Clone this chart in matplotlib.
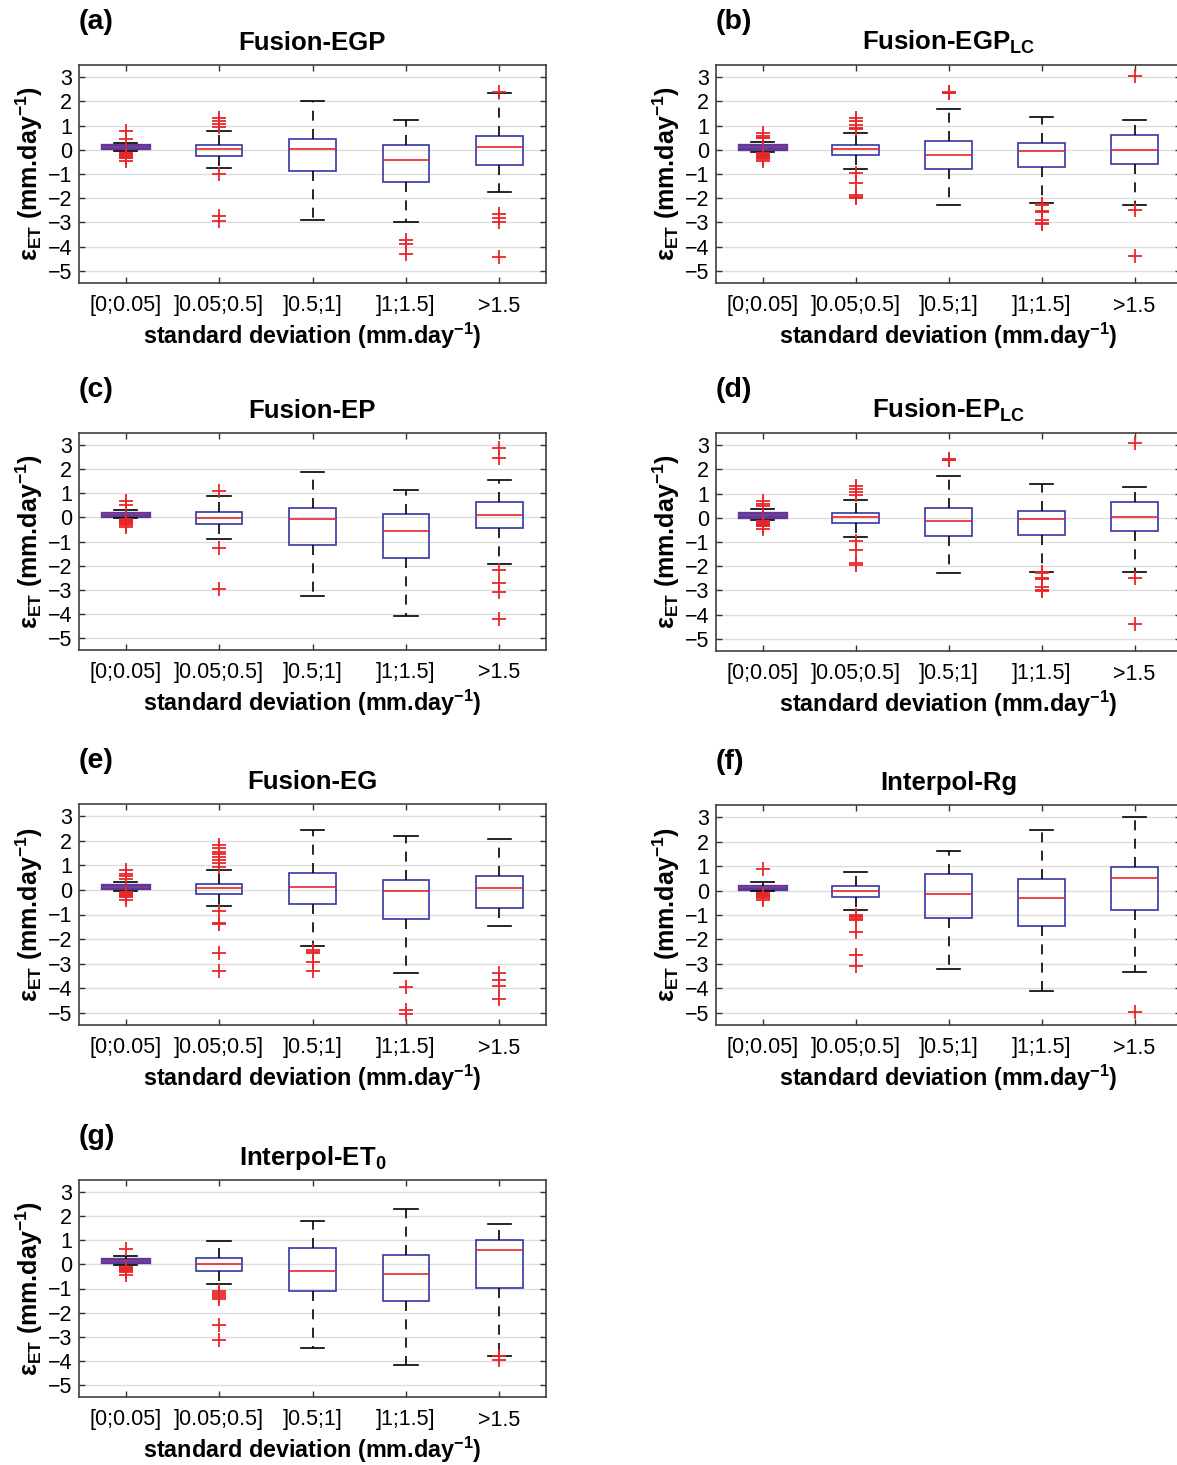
import numpy as np
import matplotlib.pyplot as plt

plt.rcParams['font.family'] = ['Liberation Sans', 'DejaVu Sans']
plt.rcParams['mathtext.fontset'] = 'custom'
plt.rcParams['mathtext.rm'] = 'Liberation Sans'
plt.rcParams['mathtext.bf'] = 'Liberation Sans:bold'
plt.rcParams['mathtext.it'] = 'Liberation Sans:italic'

categories = ['[0;0.05]', ']0.05;0.5]', ']0.5;1]', ']1;1.5]', '>1.5']
panel_labels = ['(a)', '(b)', '(c)', '(d)', '(e)', '(f)', '(g)']
titles = ['Fusion-EGP', r'Fusion-EGP$_\mathbf{LC}$', 'Fusion-EP', r'Fusion-EP$_\mathbf{LC}$',
          'Fusion-EG', 'Interpol-Rg', r'Interpol-ET$_\mathbf{0}$']

# rows = panels a..g, columns = std-dev classes
medians = np.array([
    [0.13, 0.03, 0.02, -0.41, 0.12],
    [0.13, 0.04, -0.20, -0.07, 0.01],
    [0.13, -0.02, -0.06, -0.55, 0.11],
    [0.13, 0.04, -0.15, -0.04, 0.04],
    [0.13, 0.09, 0.13, -0.05, 0.07],
    [0.13, 0.00, -0.15, -0.29, 0.53],
    [0.14, 0.03, -0.26, -0.39, 0.58],
])
q1 = np.array([
    [0.06, -0.25, -0.89, -1.35, -0.63],
    [0.05, -0.23, -0.81, -0.73, -0.59],
    [0.07, -0.28, -1.14, -1.70, -0.44],
    [0.05, -0.20, -0.76, -0.70, -0.53],
    [0.07, -0.15, -0.59, -1.19, -0.74],
    [0.08, -0.27, -1.12, -1.46, -0.81],
    [0.08, -0.28, -1.12, -1.53, -0.97],
])
q3 = np.array([
    [0.19, 0.21, 0.44, 0.19, 0.55],
    [0.20, 0.19, 0.38, 0.27, 0.62],
    [0.18, 0.21, 0.41, 0.14, 0.63],
    [0.20, 0.21, 0.41, 0.30, 0.65],
    [0.20, 0.23, 0.70, 0.40, 0.55],
    [0.19, 0.20, 0.66, 0.48, 0.97],
    [0.21, 0.25, 0.69, 0.37, 1.02],
])
whisk_lo = np.array([
    [-0.07, -0.77, -2.89, -2.97, -1.73],
    [-0.10, -0.81, -2.26, -2.20, -2.26],
    [-0.03, -0.90, -3.27, -4.10, -1.92],
    [-0.08, -0.80, -2.26, -2.22, -2.23],
    [-0.03, -0.65, -2.27, -3.39, -1.46],
    [-0.03, -0.79, -3.20, -4.09, -3.35],
    [-0.01, -0.80, -3.46, -4.19, -3.79],
])
whisk_hi = np.array([
    [0.29, 0.76, 2.02, 1.22, 2.35],
    [0.34, 0.68, 1.68, 1.35, 1.22],
    [0.32, 0.87, 1.89, 1.12, 1.54],
    [0.36, 0.72, 1.73, 1.40, 1.27],
    [0.34, 0.80, 2.46, 2.21, 2.08],
    [0.33, 0.77, 1.61, 2.46, 3.00],
    [0.34, 0.95, 1.81, 2.30, 1.68],
])
outliers = [
    [[0.76, 0.45, -0.12, -0.15, -0.18, -0.21, -0.24, -0.27, -0.30, -0.33, -0.36, -0.45],
     [1.30, 1.17, 1.05, 0.92, -1.02, -2.72, -2.92],
     [],
     [-3.72, -3.90, -4.30],
     [2.38, -2.65, -2.82, -2.98, -4.44]],
    [[0.70, 0.55, 0.50, 0.47, -0.14, -0.17, -0.20, -0.23, -0.26, -0.29, -0.32, -0.35, -0.38, -0.48],
     [1.30, 1.18, 1.03, 0.90, 0.86, -0.97, -1.37, -1.87, -1.93, -1.98],
     [2.33, 2.36, 2.40],
     [-2.24, -2.28, -2.52, -2.56, -2.88, -3.02, -3.06],
     [3.05, -2.50, -4.38]],
    [[0.68, 0.50, -0.08, -0.11, -0.14, -0.17, -0.20, -0.23, -0.26, -0.30, -0.38],
     [1.10, -1.27, -2.97],
     [],
     [],
     [2.88, 2.45, -2.19, -2.72, -3.08, -4.20]],
    [[0.70, 0.55, 0.50, -0.12, -0.15, -0.18, -0.21, -0.24, -0.27, -0.30, -0.33, -0.36, -0.45],
     [1.30, 1.18, 1.05, 0.92, -0.95, -1.35, -1.88, -1.94],
     [2.38, 2.40, 2.42],
     [-2.24, -2.30, -2.50, -2.54, -2.85, -3.00, -3.04],
     [3.10, -2.47, -4.40]],
    [[0.82, 0.65, 0.55, 0.45, -0.08, -0.11, -0.14, -0.17, -0.20, -0.23, -0.26, -0.30, -0.42],
     [1.85, 1.70, 1.55, 1.45, 1.35, 1.22, 1.10, 0.95, -0.85, -1.35, -1.40, -2.55, -3.30],
     [-2.45, -2.52, -2.58, -2.92, -3.30],
     [-3.95, -4.88, -5.05],
     [-3.38, -3.65, -3.92, -4.45]],
    [[0.88, -0.08, -0.11, -0.14, -0.17, -0.20, -0.23, -0.26, -0.29, -0.38],
     [-1.02, -1.06, -1.10, -1.15, -1.20, -1.70, -2.64, -3.10],
     [],
     [],
     [-4.97]],
    [[0.65, -0.10, -0.13, -0.16, -0.19, -0.22, -0.25, -0.28, -0.32, -0.42],
     [-1.12, -1.20, -1.28, -1.36, -1.45, -2.50, -3.14],
     [],
     [],
     [-3.80, -3.97]],
]

W, H = 1177, 1465
# axes boxes in pixels: (left, top, right, bottom)
boxes_px = [
    (79, 65, 546, 283), (716, 65, 1181, 283),
    (79, 433, 546, 650), (716, 433, 1181, 651),
    (79, 804, 546, 1025), (716, 805, 1181, 1025),
    (79, 1180, 546, 1397),
]

box_color = '#3535a5'
med_color = '#e8262a'
out_color = '#e8262a'

fig = plt.figure(figsize=(W / 100, H / 100), dpi=100)

for i in range(7):
    l, t, r, b = boxes_px[i]
    ax = fig.add_axes([l / W, 1 - b / H, (r - l) / W, (b - t) / H])

    stats = []
    for j in range(5):
        stats.append(dict(med=medians[i, j], q1=q1[i, j], q3=q3[i, j],
                          whislo=whisk_lo[i, j], whishi=whisk_hi[i, j],
                          fliers=outliers[i][j]))
    res = ax.bxp(stats, positions=np.arange(1, 6), widths=0.5, capwidths=0.25,
                 patch_artist=True, showfliers=True,
                 boxprops=dict(edgecolor=box_color, facecolor='none', linewidth=1.2),
                 medianprops=dict(color=med_color, linewidth=1.2),
                 whiskerprops=dict(color='black', linewidth=1.2, linestyle=(0, (6, 5))),
                 capprops=dict(color='black', linewidth=1.2),
                 flierprops=dict(marker='+', markeredgecolor=out_color, markersize=10,
                                 markeredgewidth=1.3, linestyle='none'))
    # the first box is so thin it looks like a solid purple bar
    res['boxes'][0].set_facecolor('#6a3fa0')
    res['boxes'][0].set_edgecolor('#5a3a9a')
    res['boxes'][0].set_linewidth(2.4)
    res['medians'][0].set_color('#8a3a8a')

    ax.set_xlim(0.5, 5.5)
    ax.set_ylim(-5.5, 3.5)
    ax.set_yticks(np.arange(-5, 4))
    ax.set_xticks(np.arange(1, 6))
    ax.set_xticklabels(categories)
    ax.grid(axis='y', color='#dcdcdc', linewidth=1.0)
    ax.set_axisbelow(True)
    ax.tick_params(direction='in', top=True, right=True, length=4, width=1.0,
                   color='#333333', labelsize=15.5)
    ax.tick_params(axis='x', pad=9)
    ax.tick_params(axis='y', pad=5)
    for sp in ax.spines.values():
        sp.set_color('#404040')
        sp.set_linewidth(1.2)

    ax.set_ylabel(r'ε$_\mathbf{ET}$ (mm.day$^\mathbf{-1}$)', fontsize=18,
                  fontweight='bold', labelpad=2)
    ax.set_xlabel(r'standard deviation (mm.day$^\mathbf{-1}$)', fontsize=16.8,
                  fontweight='bold', labelpad=3)
    ax.set_title(titles[i], fontsize=18.5, fontweight='bold', pad=11)
    ax.annotate(panel_labels[i], xy=(0, 1), xycoords='axes fraction',
                xytext=(0, 31), textcoords='offset points', ha='left', va='center',
                fontsize=20.5, fontweight='bold')

fig.savefig('out.png', dpi=100)
